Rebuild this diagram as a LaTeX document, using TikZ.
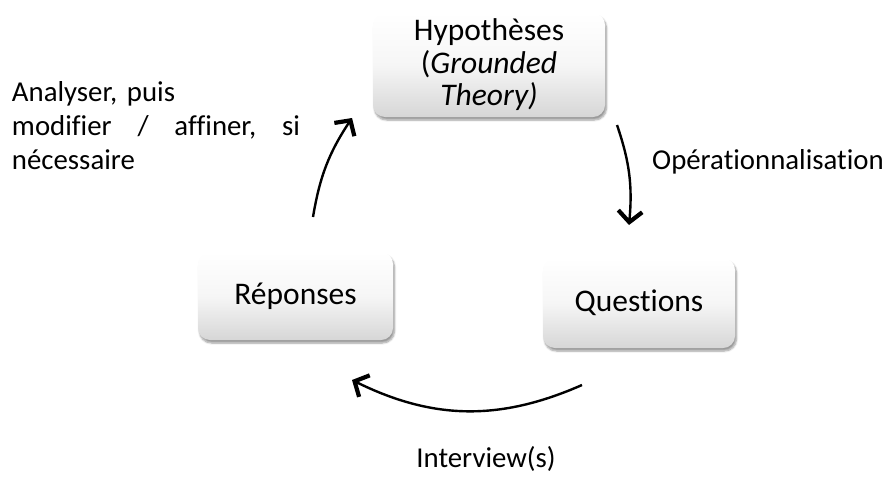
\documentclass[tikz,border=0pt]{standalone}
\usepackage{fontspec}
\setmainfont{Carlito}[Ligatures=NoCommon]
\usepackage{tikz}
\usetikzlibrary{arrows.meta}
\usetikzlibrary{shadows.blur}

\begin{document}
\begin{tikzpicture}[x=1pt,y=1pt,
  etape/.style={rounded corners=12pt,top color=white,bottom color=gray!32,middle color=gray!7,blur shadow={shadow xshift=1.5pt,shadow yshift=-3pt,shadow blur steps=6,shadow opacity=40},align=center,inner sep=0pt,font=\fontsize{31.5}{32.5}\selectfont},
  fleche/.style={line width=2.4pt,-{Straight Barb[length=11pt,width=24pt,line width=4.2pt]}},
  legende/.style={inner sep=0pt,font=\fontsize{28.8}{34}\selectfont\frenchspacing}]
  \useasboundingbox (0,0) rectangle (890,-476);
  \node[etape,minimum width=232pt,minimum height=104pt] (hyp) at (489,-65) {Hypothèses\\(\textit{Grounded}\\\textit{Theory)}};
  \node[etape,minimum width=195pt,minimum height=88pt] (rep) at (295.5,-296) {Réponses};
  \node[etape,minimum width=192pt,minimum height=90pt] (que) at (639,-303) {Questions};
  \coordinate (ana-a) at (313,-217);
  \coordinate (ana-b) at (352,-118);
  \coordinate (op-a) at (617,-125);
  \coordinate (op-b) at (629,-225);
  \coordinate (int-a) at (582,-385);
  \coordinate (int-b) at (352,-380);
  \draw[fleche] (ana-a) to[bend left=12] (ana-b);
  \draw[fleche] (op-a) to[bend left=12] (op-b);
  \draw[fleche] (int-a) to[bend left=25] (int-b);
  \node[legende,text width=288pt,align=left] (ana) at (156,-126) {Analyser, puis\\\makebox[288pt][l]{modifier\hfill/\hfill affiner,\hfill si}\\nécessaire};
  \node[legende,anchor=west] (op) at (652,-162) {Opérationnalisation};
  \node[legende] (int) at (486,-459) {Interview(s)};
\end{tikzpicture}
\end{document}
